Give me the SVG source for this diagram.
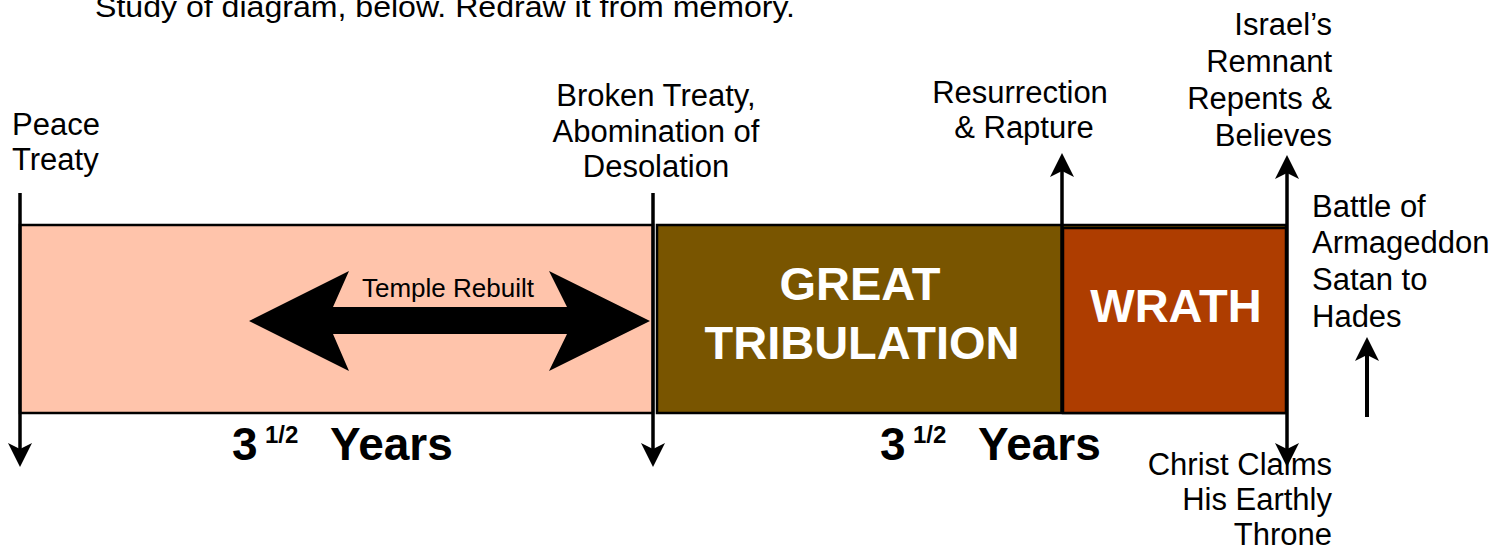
<svg xmlns="http://www.w3.org/2000/svg" width="1507" height="555" viewBox="0 0 1507 555">
<style>
.lbl{font-family:"Liberation Sans",Arial,sans-serif;font-size:31px;fill:#000}
.big{font-family:"Liberation Sans",Arial,sans-serif;font-weight:bold;fill:#fff;font-size:47px;text-anchor:middle}
.yrs{font-family:"Liberation Sans",Arial,sans-serif;font-weight:bold;fill:#000}
.box{stroke:#000;stroke-width:2.5}
.conn{stroke:#000;stroke-width:3.5;fill:none}
</style>
<defs>
<marker id="ah" viewBox="0 0 24 24" refX="6" refY="12" markerWidth="24" markerHeight="24" markerUnits="userSpaceOnUse" orient="auto-start-reverse">
<path d="M0,0 L24,12 L0,24 L6,12 Z" fill="#000"/>
</marker>
</defs>
<rect width="1507" height="555" fill="#fff"/>
<text class="lbl" x="95" y="17" textLength="700" lengthAdjust="spacingAndGlyphs" style="font-size:30px">Study of diagram, below. Redraw it from memory.</text>

<g id="first-half">
<rect class="box" x="20" y="225" width="633" height="188" fill="#FFC4AB"/>
</g>
<g id="great-tribulation">
<rect class="box" x="657" y="225" width="629" height="188" fill="#795500"/>
<text class="big" x="860" y="300">GREAT</text>
<text class="big" x="862" y="359">TRIBULATION</text>
</g>
<g id="wrath">
<rect class="box" x="1063" y="228" width="223" height="185" fill="#AE3D00"/>
<text class="big" x="1176" y="322">WRATH</text>
</g>
<g id="temple-rebuilt">
<polygon points="249,321 349,271 333,307 567,307 549,271 650,321 549,371 567,334 333,334 349,371" fill="#000"/>
<text class="lbl" x="448" y="297" text-anchor="middle" style="font-size:26px">Temple Rebuilt</text>
</g>

<g id="connectors">
<line class="conn" x1="20" y1="193" x2="20" y2="449" marker-end="url(#ah)"/>
<line class="conn" x1="653" y1="193" x2="653" y2="449" marker-end="url(#ah)"/>
<line class="conn" x1="1062" y1="413" x2="1062" y2="171" marker-end="url(#ah)"/>
<line class="conn" x1="1287" y1="173" x2="1287" y2="449" marker-start="url(#ah)" marker-end="url(#ah)"/>
<line class="conn" x1="1367" y1="417" x2="1367" y2="355" marker-end="url(#ah)" style="stroke-width:4"/>
</g>

<g id="label-peace">
<text class="lbl" x="12" y="135">Peace</text>
<text class="lbl" x="12" y="170">Treaty</text>
</g>
<g id="label-broken" text-anchor="middle">
<text class="lbl" x="656" y="106">Broken Treaty,</text>
<text class="lbl" x="656" y="142">Abomination of</text>
<text class="lbl" x="656" y="177">Desolation</text>
</g>
<g id="label-resurrection" text-anchor="middle">
<text class="lbl" x="1020" y="103">Resurrection</text>
<text class="lbl" x="1024" y="138">&amp; Rapture</text>
</g>
<g id="label-israel" text-anchor="end">
<text class="lbl" x="1332" y="35">Israel’s</text>
<text class="lbl" x="1332" y="72">Remnant</text>
<text class="lbl" x="1332" y="109">Repents &amp;</text>
<text class="lbl" x="1332" y="146">Believes</text>
</g>
<g id="label-battle">
<text class="lbl" x="1312" y="217">Battle of</text>
<text class="lbl" x="1312" y="253">Armageddon</text>
<text class="lbl" x="1312" y="290">Satan to</text>
<text class="lbl" x="1312" y="327">Hades</text>
</g>
<g id="label-christ" text-anchor="end">
<text class="lbl" x="1332" y="475">Christ Claims</text>
<text class="lbl" x="1332" y="510">His Earthly</text>
<text class="lbl" x="1332" y="545">Throne</text>
</g>
<g id="years-1">
<text class="yrs" x="232" y="460" style="font-size:46px">3</text>
<text class="yrs" x="265" y="443" style="font-size:24px">1/2</text>
<text class="yrs" x="330" y="460" style="font-size:46px">Years</text>
</g>
<g id="years-2">
<text class="yrs" x="880" y="460" style="font-size:46px">3</text>
<text class="yrs" x="913" y="443" style="font-size:24px">1/2</text>
<text class="yrs" x="978" y="460" style="font-size:46px">Years</text>
</g>
</svg>
